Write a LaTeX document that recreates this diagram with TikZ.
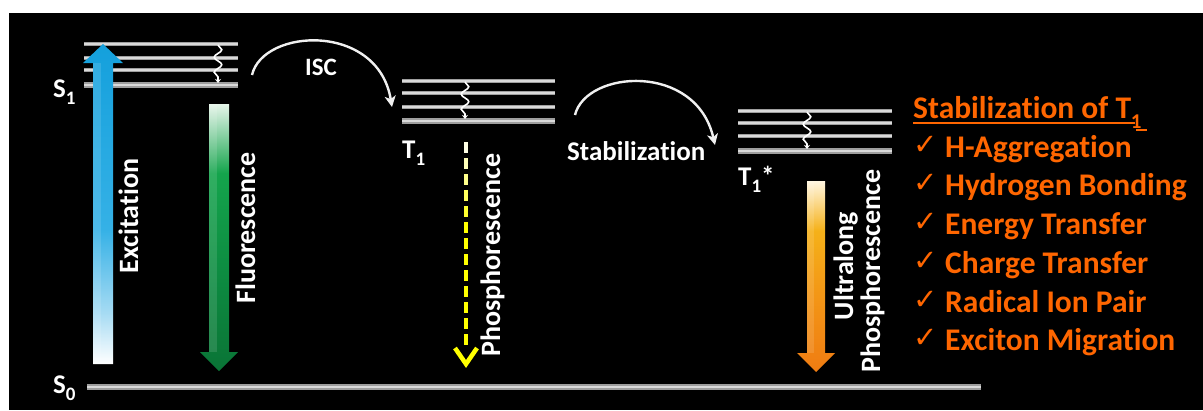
\documentclass[tikz,border=0pt]{standalone}
\usepackage{fontspec}
\setmainfont{Carlito}[Ligatures=NoCommon]
\newfontfamily\symfont{DejaVu Sans}
\usetikzlibrary{arrows.meta,decorations.pathmorphing}

\definecolor{lvldark}{HTML}{9E9E9E}
\definecolor{lvllight}{HTML}{D9D9D9}
\definecolor{stab}{HTML}{FF6600}
\definecolor{phy}{HTML}{FFFF00}
\definecolor{exctop}{HTML}{14A0DC}
\definecolor{excmid}{HTML}{35B1E6}
\definecolor{exclight}{HTML}{A6DBF3}
\definecolor{flutop}{HTML}{E6F5EA}
\definecolor{flumid}{HTML}{14A44C}
\definecolor{flulow}{HTML}{0D8E42}
\definecolor{flubot}{HTML}{0A7436}
\definecolor{ultop}{HTML}{FFF6E0}
\definecolor{ulmid}{HTML}{F5B119}
\definecolor{ullow}{HTML}{F39616}
\definecolor{ulbot}{HTML}{EF7C12}

% vertical colour ramps for the block arrows (path box maps to 25bp..75bp)
\pgfdeclareverticalshading{excshade}{100bp}{color(0bp)=(white); color(25bp)=(white);
  color(33bp)=(exclight); color(46bp)=(excmid); color(75bp)=(exctop); color(100bp)=(exctop)}
\pgfdeclareverticalshading{flushade}{100bp}{color(0bp)=(flubot); color(25bp)=(flubot);
  color(45bp)=(flulow); color(62bp)=(flumid); color(75bp)=(flutop); color(100bp)=(flutop)}
\pgfdeclareverticalshading{ulshade}{100bp}{color(0bp)=(ulbot); color(25bp)=(ulbot);
  color(45bp)=(ullow); color(62bp)=(ulmid); color(75bp)=(ultop); color(100bp)=(ultop)}

\newcommand\lvsub[1]{\raisebox{-7pt}{\fontsize{19}{19}\selectfont #1}}

\tikzset{
  lab/.style={text=white, inner sep=0pt, font=\bfseries\fontsize{28}{30}\selectfont},
  lvlname/.style={text=white, inner sep=0pt, font=\bfseries\fontsize{27}{30}\selectfont, anchor=base west},
  vlab/.style={lab, rotate=90, anchor=base},
  thinlevel/.style={draw=lvldark, line width=1.1pt, double=lvllight, double distance=1.3pt},
  thicklevel/.style={draw=lvldark, line width=1.4pt, double=lvllight, double distance=2.4pt},
  relax/.style={white, line width=1.6pt, decorate,
    decoration={snake, amplitude=3.8pt, segment length=15pt, post length=4pt},
    -{Stealth[length=4pt,width=6pt]}},
  transfer/.style={white!88!gray, line width=2.4pt, -{Stealth[length=11pt,width=11pt,inset=3pt]}},
  listhead/.style={text=stab, inner sep=0pt, font=\bfseries\fontsize{31.5}{34}\selectfont, anchor=base west},
  listitem/.style={text=stab, inner sep=0pt, font=\bfseries\fontsize{31.5}{34}\selectfont, anchor=base west},
  tick/.style={text=stab, inner sep=0pt, font=\symfont\fontsize{29}{32}\selectfont, anchor=base west}
}

\begin{document}
\begin{tikzpicture}[x=1pt,y=-1pt]
\useasboundingbox (0,0) rectangle (1203,410);
\fill[white] (0,0) rectangle (1203,410);
\fill[black] (9,13) rectangle (1203,410);

% ---------- energy levels ----------
% S1 manifold
\draw[thinlevel] (84,44) -- (238,44);
\draw[thinlevel] (84,58) -- (238,58);
\draw[thinlevel] (84,70) -- (238,70);
\draw[thicklevel] (84,85) -- (238,85);
% T1 manifold
\draw[thinlevel] (402,81) -- (555,81);
\draw[thinlevel] (402,93) -- (555,93);
\draw[thinlevel] (402,107) -- (555,107);
\draw[thicklevel] (402,121) -- (555,121);
% stabilized T1* manifold
\draw[thinlevel] (738,111) -- (892,111);
\draw[thinlevel] (738,123) -- (892,123);
\draw[thinlevel] (738,136) -- (892,136);
\draw[thicklevel] (738,151) -- (892,151);
% ground state
\draw[thicklevel] (87,387) -- (981,387);

% vibrational relaxation squiggles
\coordinate (vrS1a) at (218,45);  \coordinate (vrS1b) at (218,83);
\coordinate (vrT1a) at (465,82);  \coordinate (vrT1b) at (465,119);
\coordinate (vrT2a) at (807,112); \coordinate (vrT2b) at (807,149);
\draw[relax] (vrS1a) -- (vrS1b);
\draw[relax] (vrT1a) -- (vrT1b);
\draw[relax] (vrT2a) -- (vrT2b);

% ---------- level names ----------
\node[lvlname] (S1) at (53,97) {S\lvsub{1}};
\node[lvlname] (S0) at (53,393) {S\lvsub{0}};
\node[lvlname] (T1) at (402,158) {T\lvsub{1}};
\node[lvlname] (T1s) at (738,185) {T\lvsub{1}*};

% ---------- block arrows ----------
% excitation (upwards)
\path[shading=excshade] (93,364) -- (113,364) -- (113,63) -- (123,63) -- (103,44)
  -- (83,63) -- (93,63) -- cycle;
\fill[white, opacity=0.12] (93,364) -- (101,364) -- (101,63) -- (93,63) -- cycle;
% fluorescence (downwards)
\path[shading=flushade] (209,104) -- (229,104) -- (229,352) -- (238,352) -- (219,371)
  -- (200,352) -- (209,352) -- cycle;
\fill[white, opacity=0.12] (209,104) -- (217,104) -- (217,352) -- (209,352) -- cycle;
% ultralong phosphorescence (downwards)
\path[shading=ulshade] (807,181) -- (825,181) -- (825,353) -- (835,353) -- (816,372)
  -- (797,353) -- (807,353) -- cycle;
\fill[white, opacity=0.12] (807,181) -- (814,181) -- (814,353) -- (807,353) -- cycle;

% phosphorescence: dashed, fading from white to yellow
\foreach \i in {0,...,12}{
  \pgfmathtruncatemacro\p{min(100,10+18*\i)}
  \draw[line width=4pt, color=phy!\p!white] (466,142+16*\i) -- (466,153+16*\i);
}
\coordinate (phA) at (455,348);
\coordinate (phTip) at (466,364);
\coordinate (phB) at (477,348);
\draw[phy, line width=4.5pt, line join=miter] (phA) -- (phTip) -- (phB);

% ---------- transition labels ----------
\node[vlab] (exc) at (138,216) {Excitation};
\node[vlab] (flu) at (255,228) {Fluorescence};
\node[vlab] (pho) at (500,255) {Phosphorescence};
\node[vlab] (ulA) at (853,266) {Ultralong};
\node[vlab] (ulB) at (880,271) {Phosphorescence};

% ---------- curved transfers ----------
\coordinate (iscA) at (252,75);  \coordinate (iscB) at (392,107);
\draw[transfer] (iscA) .. controls (263,28) and (378,22) .. (iscB);
\node[lab, font=\bfseries\fontsize{25}{28}\selectfont, anchor=base west] (isc) at (305,75) {ISC};

\coordinate (stA) at (575,115);  \coordinate (stB) at (715,145);
\draw[transfer] (stA) .. controls (586,70) and (696,62) .. (stB);
\node[lab, font=\bfseries\fontsize{27}{30}\selectfont, anchor=base west] (stl) at (567,160) {Stabilization};

% ---------- list of stabilization routes ----------
\node[listhead] (ttl) at (913,118) {Stabilization of T\raisebox{-10pt}{\fontsize{21}{21}\selectfont 1}};
\draw[stab, line width=2pt] (913,123) -- (1135,123);
\draw[stab, line width=2pt] (1136,130) -- (1147,130);

\node[tick] (c1) at (913,154) {✓};
\node[listitem] (i1) at (945,157) {H-Aggregation};
\node[tick] (c2) at (913,192) {✓};
\node[listitem] (i2) at (945,195) {Hydrogen Bonding};
\node[tick] (c3) at (913,231) {✓};
\node[listitem] (i3) at (945,234) {Energy Transfer};
\node[tick] (c4) at (913,270) {✓};
\node[listitem] (i4) at (945,273) {Charge Transfer};
\node[tick] (c5) at (913,309) {✓};
\node[listitem] (i5) at (945,312) {Radical Ion Pair};
\node[tick] (c6) at (913,347) {✓};
\node[listitem] (i6) at (945,350) {Exciton Migration};
\end{tikzpicture}
\end{document}
